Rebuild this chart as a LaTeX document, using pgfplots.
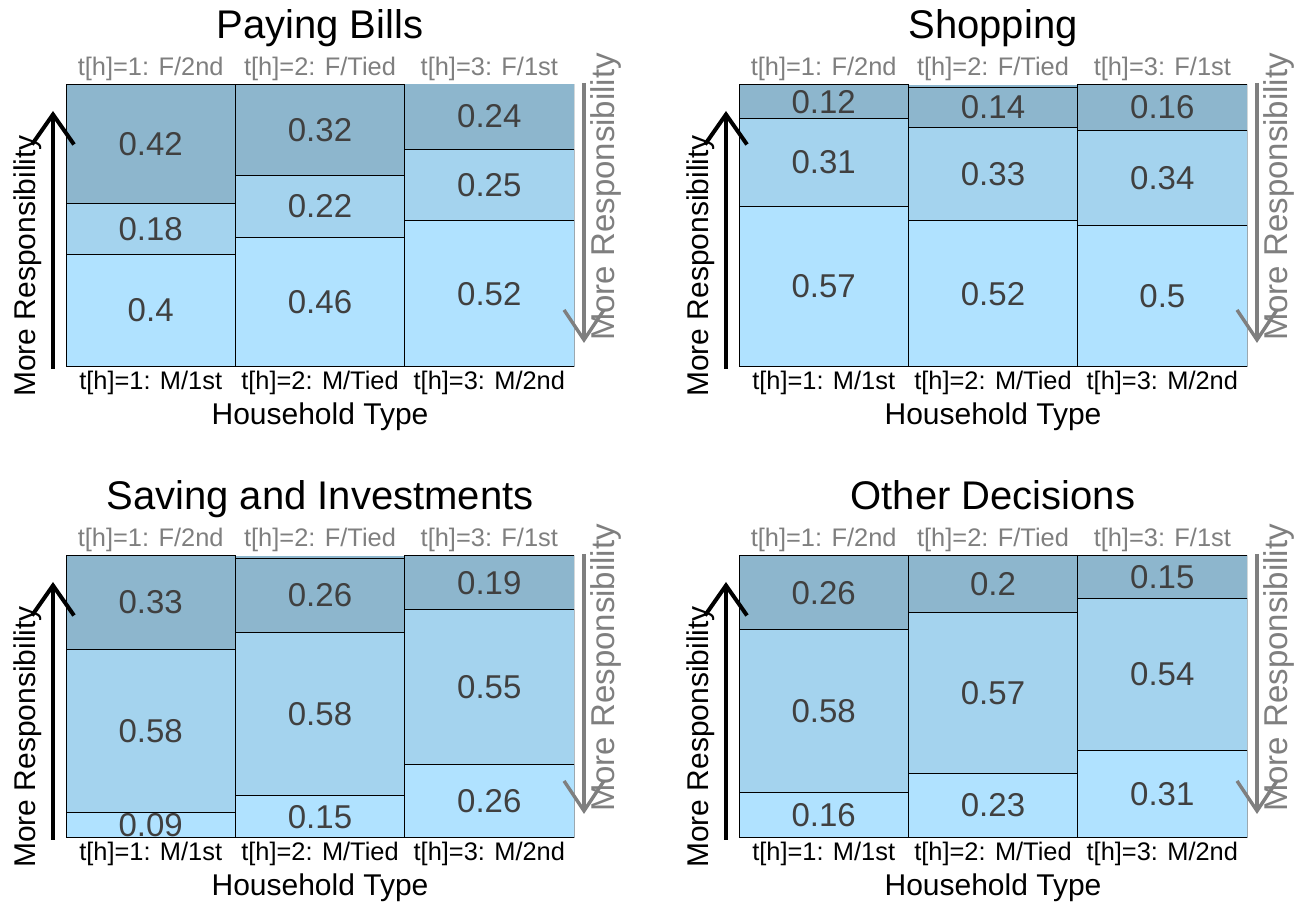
\documentclass[border=0pt]{standalone}
\usepackage{fontspec}
\setmainfont{Liberation Sans}
\usepackage{pgfplots}
\usepackage{pgfplotstable}
\pgfplotsset{compat=1.18}
\usetikzlibrary{arrows.meta}

% R colours lightskyblue1/2/3
\definecolor{seg1}{HTML}{B0E2FF}
\definecolor{seg2}{HTML}{A4D3EE}
\definecolor{seg3}{HTML}{8DB6CD}
\definecolor{valtext}{HTML}{404040}
\definecolor{gr}{HTML}{7F7F7F}

% a = bottom (M), b = middle, c = top (F)
\pgfplotstableread{
x a b c
1 0.4 0.18 0.42
2 0.46 0.22 0.32
3 0.52 0.25 0.24
}\bills
\pgfplotstableread{
x a b c
1 0.57 0.31 0.12
2 0.52 0.33 0.14
3 0.5 0.34 0.16
}\shopping
\pgfplotstableread{
x a b c
1 0.09 0.58 0.33
2 0.15 0.58 0.26
3 0.26 0.55 0.19
}\saving
\pgfplotstableread{
x a b c
1 0.16 0.58 0.26
2 0.23 0.57 0.2
3 0.31 0.54 0.15
}\other

\pgfplotsset{
  panel/.style={
    scale only axis, width=254pt, height=141pt,
    anchor=south west,
    xmin=0.5, xmax=3.5, ymin=0, ymax=1,
    axis line style={draw=none},
    major tick length=0pt,
    ytick=\empty, xtick={1,2,3},
    xticklabels={t[h]=1: M/1st, t[h]=2: M/Tied, t[h]=3: M/2nd},
    xticklabel style={anchor=base, yshift=-11.5pt, font=\fontsize{12.7}{15}\selectfont},
    xlabel={Household Type},
    every axis x label/.style={at={(axis description cs:0.5,0)}, anchor=base, yshift=-29pt, font=\fontsize{15}{18}\selectfont},
    every axis title/.style={at={(axis description cs:0.5,1)}, anchor=base, yshift=23pt, font=\fontsize{20}{24}\selectfont},
    axis background/.style={fill=seg3},
    clip mode=individual,
  },
  seg/.style={ybar, bar width=1, bar shift=0pt, draw=black, line width=0.5pt, fill=#1},
  lab/.style={draw=none, mark=none, nodes near coords, point meta=explicit symbolic,
    every node near coord/.append style={anchor=center, text=valtext, font=\fontsize{16.5}{20}\selectfont}},
}
\tikzset{toplab/.style={anchor=base, text=gr, font=\fontsize{12.7}{15}\selectfont}}

\newcommand{\panel}[4]{%
\begin{axis}[panel, at={(#1,#2)}, title={#3}]
\addplot[seg=seg3] table[x=x, y expr=\thisrow{a}+\thisrow{b}+\thisrow{c}] {#4};
\addplot[seg=seg2] table[x=x, y expr=\thisrow{a}+\thisrow{b}] {#4};
\addplot[seg=seg1] table[x=x, y=a] {#4};
\addplot[lab] table[x=x, y expr=\thisrow{a}/2, meta=a] {#4};
\addplot[lab] table[x=x, y expr=\thisrow{a}+\thisrow{b}/2, meta=b] {#4};
\addplot[lab] table[x=x, y expr=\thisrow{a}+\thisrow{b}+\thisrow{c}/2, meta=c] {#4};
\node[toplab] at ([yshift=4.5pt]axis cs:1,1) {t[h]=1: F/2nd};
\node[toplab] at ([yshift=4.5pt]axis cs:2,1) {t[h]=2: F/Tied};
\node[toplab] at ([yshift=4.5pt]axis cs:3,1) {t[h]=3: F/1st};
\draw[line width=2pt, -{Straight Barb[length=15pt,width=21pt]}]
  ([xshift=-6.5pt,yshift=-1pt]rel axis cs:0,0) -- ([xshift=-6.5pt,yshift=-13pt]rel axis cs:0,1);
\node[rotate=90, anchor=base, font=\fontsize{15}{18}\selectfont] at ([xshift=-15.5pt,yshift=50.5pt]rel axis cs:0,0) {More Responsibility};
\draw[gr, line width=1.7pt, -{Straight Barb[length=15pt,width=20pt]}]
  ([xshift=5pt,yshift=1pt]rel axis cs:1,1) -- ([xshift=5pt,yshift=12pt]rel axis cs:1,0);
\node[rotate=90, anchor=base, text=gr, font=\fontsize{16.5}{20}\selectfont] at ([xshift=20pt,yshift=-56pt]rel axis cs:1,1) {More Responsibility};
\end{axis}}

\begin{document}
\begin{tikzpicture}
\useasboundingbox (0,0) rectangle (654pt,451.5pt);
\panel{33pt}{268pt}{Paying Bills}{\bills}
\panel{369.5pt}{268pt}{Shopping}{\shopping}
\panel{33pt}{32.5pt}{Saving and Investments}{\saving}
\panel{369.5pt}{32.5pt}{Other Decisions}{\other}
\end{tikzpicture}
\end{document}
